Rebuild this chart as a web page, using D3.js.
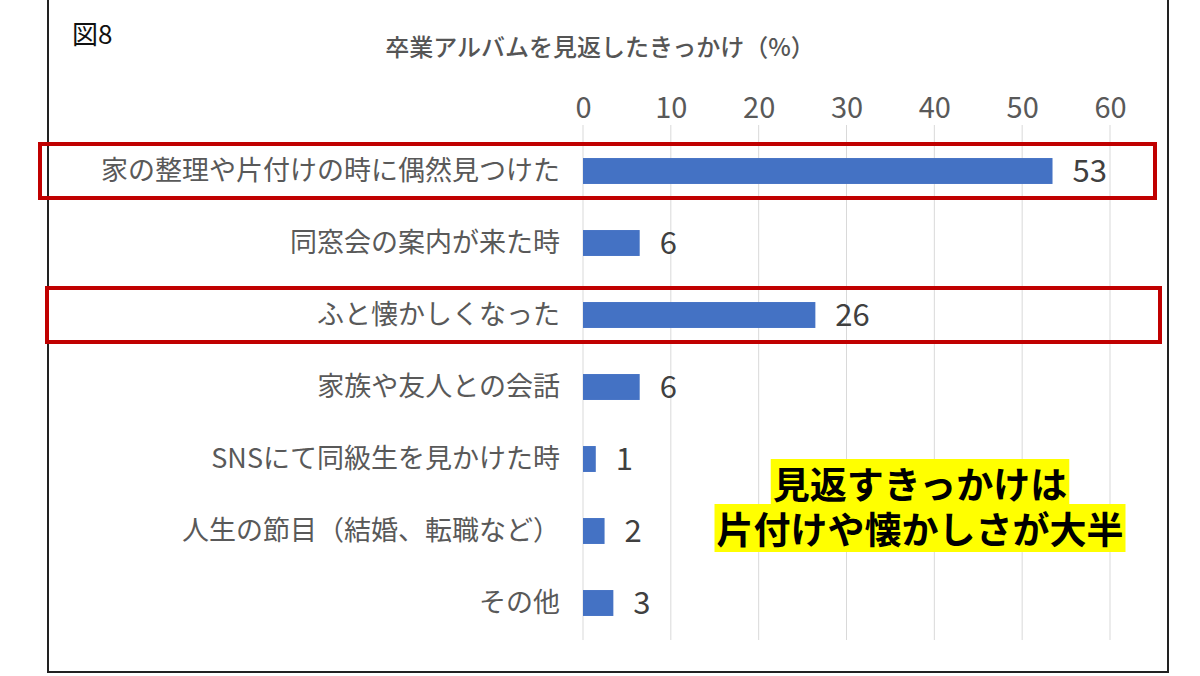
<!DOCTYPE html>
<html><head><meta charset="utf-8">
<script src="https://cdn.jsdelivr.net/npm/d3@7"></script>
<style>body{margin:0;background:#fff;font-family:"Noto Sans CJK JP",sans-serif;}</style>
</head><body><div id="chart"></div>
<script>
// data
var categories = ["家の整理や片付けの時に偶然見つけた", "同窓会の案内が来た時", "ふと懐かしくなった",
  "家族や友人との会話", "SNSにて同級生を見かけた時", "人生の節目（結婚、転職など）", "その他"];
var values = [53, 6, 26, 6, 1, 2, 3];
var ticks = [0, 10, 20, 30, 40, 50, 60];
var highlighted = ["家の整理や片付けの時に偶然見つけた", "ふと懐かしくなった"];
var noteLines = ["見返すきっかけは", "片付けや懐かしさが大半"];

var svg = d3.select("#chart").append("svg").attr("width", 1200).attr("height", 676);

// frame
svg.append("rect").attr("x", 48).attr("y", -2).attr("width", 1120).attr("height", 674)
  .attr("fill", "none").attr("stroke", "#222").attr("stroke-width", 2);

svg.append("text").attr("x", 72).attr("y", 44).attr("font-size", 26).attr("fill", "#111").text("図8");
svg.append("text").attr("x", 600).attr("y", 56).attr("text-anchor", "middle")
  .attr("font-size", 24).attr("font-weight", 500).attr("fill", "#555").text("卒業アルバムを見返したきっかけ（%）");

var x = d3.scaleLinear().domain([0, 60]).range([583, 1110]);
var y = d3.scaleBand().domain(categories).range([135, 639]).paddingInner(0.64).paddingOuter(0.32);

// gridlines
svg.selectAll(".grid").data(ticks).enter().append("line")
  .attr("x1", d => x(d)).attr("x2", d => x(d)).attr("y1", 125).attr("y2", 640)
  .attr("stroke", "#d9d9d9").attr("stroke-width", 1);

// top axis
var axis = svg.append("g").attr("transform", "translate(0,118)")
  .call(d3.axisTop(x).tickValues(ticks).tickSize(0).tickPadding(0));
axis.select(".domain").remove();
axis.selectAll("text").attr("font-size", 29).attr("fill", "#595959")
  .attr("font-family", "Noto Sans CJK JP");

// bars
svg.selectAll(".bar").data(values).enter().append("rect")
  .attr("x", x(0)).attr("y", (d, i) => y(categories[i]))
  .attr("width", d => x(d) - x(0) + 4).attr("height", y.bandwidth())
  .attr("fill", "#4472C4");

// category labels
svg.selectAll(".cat").data(categories).enter().append("text")
  .attr("x", 560).attr("y", d => y(d) + y.bandwidth() / 2).attr("dy", "0.35em")
  .attr("text-anchor", "end").attr("font-size", 27).attr("fill", "#595959").text(d => d);

// value labels
svg.selectAll(".val").data(values).enter().append("text")
  .attr("x", d => x(d) + 24).attr("y", (d, i) => y(categories[i]) + y.bandwidth() / 2).attr("dy", "0.36em")
  .attr("font-size", 31).attr("fill", "#404040").text(d => d);

// red highlight boxes
var boxes = [{c: highlighted[0], x1: 40, x2: 1155}, {c: highlighted[1], x1: 47, x2: 1160}];
svg.selectAll(".hl").data(boxes).enter().append("rect")
  .attr("x", d => d.x1).attr("y", d => y(d.c) + y.bandwidth() / 2 - 27)
  .attr("width", d => d.x2 - d.x1).attr("height", 54)
  .attr("fill", "none").attr("stroke", "#C00000").attr("stroke-width", 4);

// annotation
var note = svg.append("g");
noteLines.forEach(function(t, i) {
  var ty = 499 + i * 45;
  var txt = note.append("text").attr("x", 920).attr("y", ty).attr("text-anchor", "middle")
    .attr("font-size", 37).attr("font-weight", "bold").attr("fill", "#000").text(t);
  var bb = txt.node().getBBox();
  note.insert("rect", "text").attr("x", bb.x - 2).attr("y", bb.y + 3)
    .attr("width", bb.width + 4).attr("height", bb.height - 6).attr("fill", "#FFFF00");
});
</script>
</body></html>
